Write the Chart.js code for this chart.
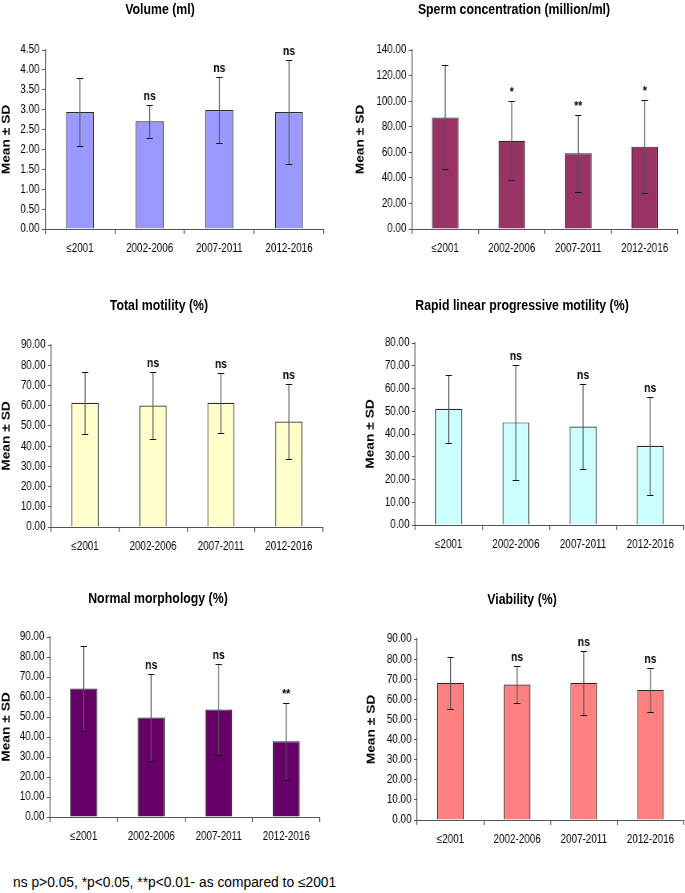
<!DOCTYPE html>
<html>
<head>
<meta charset="utf-8">
<script src="https://cdn.jsdelivr.net/npm/chart.js@4"></script>
<style>
  html, body { margin: 0; padding: 0; background: #fff; }
  #wrap { position: relative; width: 685px; height: 893px; overflow: hidden; }
  .ttl { position: absolute; font: bold 15.4px 'Liberation Sans', sans-serif; color: #000; white-space: nowrap; transform: translate(-50%, -50%) scaleX(0.8); }
  .box { position: absolute; transform-origin: 0 0; }
  #note { position: absolute; left: 13px; top: 875px; font: 13.8px 'Liberation Sans', sans-serif; color: #000; white-space: nowrap; }
</style>
</head>
<body>
<div id="wrap">
  <div id="note">ns p&gt;0.05, *p&lt;0.05, **p&lt;0.01- as compared to ≤2001</div>
</div>
<script>
const categories = ['≤2001', '2002-2006', '2007-2011', '2012-2016'];

const volumeMean = [2.94, 2.71, 2.99, 2.94];
const volumeSD = [0.85, 0.41, 0.82, 1.31];
const volumeSig = ['', 'ns', 'ns', 'ns'];

const spermMean = [87.3, 69.0, 59.2, 64.4];
const spermSD = [40.6, 31.0, 30.1, 36.5];
const spermSig = ['', '*', '**', '*'];

const motilityMean = [61.4, 60.1, 61.4, 52.2];
const motilitySD = [15.3, 16.6, 15.0, 18.6];
const motilitySig = ['', 'ns', 'ns', 'ns'];

const rapidMean = [51.1, 45.1, 43.3, 34.8];
const rapidSD = [15.0, 25.2, 18.6, 21.6];
const rapidSig = ['', 'ns', 'ns', 'ns'];

const morphMean = [64.3, 49.8, 53.8, 37.9];
const morphSD = [21.2, 21.7, 22.9, 19.3];
const morphSig = ['', 'ns', 'ns', '**'];

const viabilityMean = [68.2, 67.4, 68.2, 64.7];
const viabilitySD = [12.9, 9.1, 16.0, 11.1];
const viabilitySig = ['', 'ns', 'ns', 'ns'];

// the original figure is squeezed sideways; every panel is drawn wider and scaled back
const squeeze = 0.8;

const panels = [
    { title: 'Volume (ml)', mean: volumeMean, sd: volumeSD, sig: volumeSig, max: 4.5, step: 0.5, fill: '#9999ff',
      left: 0, top: 0, chartLeft: 45, right: 323, chartTop: 50, bottom: 229, tx: 160, ty: 9 },
    { title: 'Sperm concentration (million/ml)', mean: spermMean, sd: spermSD, sig: spermSig, max: 140, step: 20, fill: '#993366',
      left: 354, top: 0, chartLeft: 412, right: 678, chartTop: 50, bottom: 229, tx: 514, ty: 9 },
    { title: 'Total motility (%)', mean: motilityMean, sd: motilitySD, sig: motilitySig, max: 90, step: 10, fill: '#ffffcc',
      left: 0, top: 285, chartLeft: 51, right: 322, chartTop: 345, bottom: 527, tx: 159, ty: 305 },
    { title: 'Rapid linear progressive motility (%)', mean: rapidMean, sd: rapidSD, sig: rapidSig, max: 80, step: 10, fill: '#ccffff',
      left: 364, top: 285, chartLeft: 415, right: 683, chartTop: 343, bottom: 525, tx: 522, ty: 305 },
    { title: 'Normal morphology (%)', mean: morphMean, sd: morphSD, sig: morphSig, max: 90, step: 10, fill: '#660066',
      left: 0, top: 580, chartLeft: 50, right: 320, chartTop: 637, bottom: 817, tx: 158, ty: 598 },
    { title: 'Viability (%)', mean: viabilityMean, sd: viabilitySD, sig: viabilitySig, max: 90, step: 10, fill: '#ff8080',
      left: 365, top: 580, chartLeft: 417, right: 683, chartTop: 639, bottom: 820, tx: 522, ty: 599 }
];

const fam = "'Liberation Sans', sans-serif";

// error bars + significance marks, drawn from the y scale
const errorBars = {
    id: 'errorBars',
    afterDatasetsDraw(chart, args, opts) {
        const ctx = chart.ctx;
        const y = chart.scales.y;
        const ds = chart.data.datasets[0];
        chart.getDatasetMeta(0).data.forEach((bar, i) => {
            const m = ds.data[i], s = opts.sd[i];
            const yTop = Math.round(y.getPixelForValue(m + s)) + 0.5;
            const yBot = Math.round(y.getPixelForValue(m - s)) + 0.5;
            const x = bar.x;
            ctx.save();
            ctx.lineWidth = 1.2;
            ctx.strokeStyle = '#555';
            ctx.beginPath();
            ctx.moveTo(x, yTop);
            ctx.lineTo(x, yBot);
            ctx.stroke();
            ctx.strokeStyle = '#111';
            ctx.lineWidth = 1;
            ctx.beginPath();
            ctx.moveTo(x - 4, yTop);
            ctx.lineTo(x + 4, yTop);
            ctx.moveTo(x - 4, yBot);
            ctx.lineTo(x + 4, yBot);
            ctx.stroke();
            if (opts.sig[i]) {
                ctx.fillStyle = '#000';
                ctx.font = 'bold 13px ' + fam;
                ctx.textAlign = 'center';
                ctx.textBaseline = 'bottom';
                ctx.fillText(opts.sig[i], x, yTop - 3);
            }
            ctx.restore();
        });
    }
};

const wrap = document.getElementById('wrap');

panels.forEach(p => {
    const w = (p.right - p.left) / squeeze + 4;
    const h = p.bottom + 40 - p.top;
    const box = document.createElement('div');
    box.className = 'box';
    box.style.left = p.left + 'px';
    box.style.top = p.top + 'px';
    box.style.width = w + 'px';
    box.style.height = h + 'px';
    box.style.transform = 'scaleX(' + squeeze + ')';
    const cv = document.createElement('canvas');
    box.appendChild(cv);
    wrap.appendChild(box);

    const t = document.createElement('div');
    t.className = 'ttl';
    t.textContent = p.title;
    t.style.left = p.tx + 'px';
    t.style.top = p.ty + 'px';
    wrap.appendChild(t);

    const yW = (p.chartLeft - p.left) / squeeze;

    new Chart(cv, {
        type: 'bar',
        data: {
            labels: categories,
            datasets: [{
                data: p.mean,
                backgroundColor: p.fill,
                borderColor: '#2a2a2a',
                borderWidth: 1.2,
                borderSkipped: 'bottom',
                categoryPercentage: 1,
                barPercentage: 0.4
            }]
        },
        options: {
            responsive: true,
            maintainAspectRatio: false,
            animation: false,
            layout: { padding: { left: 0, right: 4, top: p.chartTop - p.top, bottom: 0 } },
            plugins: {
                legend: { display: false },
                tooltip: { enabled: false },
                errorBars: { sd: p.sd, sig: p.sig }
            },
            scales: {
                x: {
                    grid: { offset: true, drawOnChartArea: false, tickLength: 5, color: '#555', lineWidth: 1.2 },
                    border: { color: '#555' },
                    ticks: { color: '#000', padding: 7, font: { family: fam, size: 12.3 } },
                    afterFit: s => { s.height = 40; }
                },
                y: {
                    min: 0,
                    max: p.max,
                    grid: { drawOnChartArea: false, tickLength: 4, color: '#555' },
                    border: { color: '#555', width: 1.2 },
                    ticks: {
                        stepSize: p.step,
                        color: '#000',
                        padding: 3,
                        font: { family: fam, size: 12.3 },
                        callback: v => v.toFixed(2)
                    },
                    title: {
                        display: true,
                        text: 'Mean ± SD',
                        color: '#000',
                        padding: 0,
                        font: { family: fam, size: 13.8, weight: 'bold' }
                    },
                    afterFit: s => { s.width = yW; }
                }
            }
        },
        plugins: [errorBars]
    });
});
</script>
</body>
</html>
